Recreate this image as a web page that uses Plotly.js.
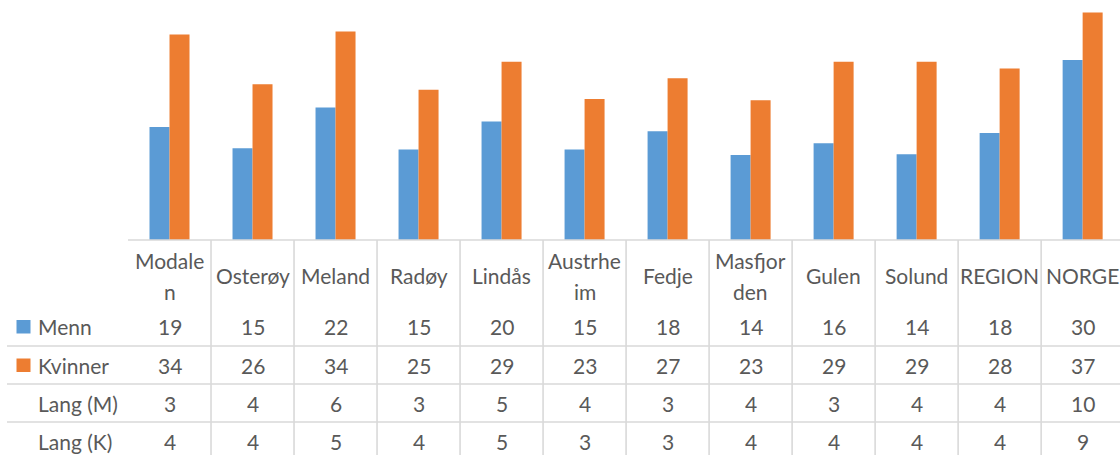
<!DOCTYPE html>
<html>
<head>
<meta charset="utf-8">
<script src="https://cdn.plot.ly/plotly-3.0.1.min.js"></script>
<style>
  html, body { margin: 0; padding: 0; background: #ffffff; }
  #chart { width: 1120px; height: 455px; }
</style>
</head>
<body>
<div id="chart"></div>
<script>
// ---- Data ----
const categories = ["Modalen", "Osterøy", "Meland", "Radøy", "Lindås", "Austrheim", "Fedje", "Masfjorden", "Gulen", "Solund", "REGION", "NORGE"];
// category labels as they wrap in the data table header
const categoryLabelLines = [["Modale", "n"], ["Osterøy"], ["Meland"], ["Radøy"], ["Lindås"], ["Austrhe", "im"], ["Fedje"], ["Masfjor", "den"], ["Gulen"], ["Solund"], ["REGION"], ["NORGE"]];
// bar values
const menn    = [18.6, 15.1, 21.8, 14.9, 19.5, 14.9, 17.9, 14.0, 15.9, 14.1, 17.6, 29.6];
const kvinner = [33.8, 25.6, 34.3, 24.7, 29.3, 23.2, 26.6, 23.0, 29.3, 29.3, 28.2, 37.4];
// data table values (as printed)
const mennTable    = [19, 15, 22, 15, 20, 15, 18, 14, 16, 14, 18, 30];
const kvinnerTable = [34, 26, 34, 25, 29, 23, 27, 23, 29, 29, 28, 37];
const langM        = [3, 4, 6, 3, 5, 4, 3, 4, 3, 4, 4, 10];
const langK        = [4, 4, 5, 4, 5, 3, 3, 4, 4, 4, 4, 9];
const seriesNames = ["Menn", "Kvinner", "Lang (M)", "Lang (K)"];
const tableRows = [mennTable, kvinnerTable, langM, langK];

// ---- Styles / geometry ----
const BLUE = "#5b9bd5", ORANGE = "#ed7d31", TEXT = "#595959", GRID = "#d9d9d9";
const W = 1120, H = 455, ML = 128, MT = 0, PLOT_BOTTOM = 240;
const PW = W - ML, PH = PLOT_BOTTOM - MT;
const XMIN = -0.5, XMAX = 11.45;
const px2x = px => (px - ML) / PW;              // pixel -> paper x
const py2y = py => (PLOT_BOTTOM - py) / PH;     // pixel -> paper y
const cat2paper = c => (c - XMIN) / (XMAX - XMIN);
const FONT = { family: "Lato, 'Open Sans', sans-serif", size: 21, color: TEXT };

const traces = [
  { type: "bar", name: "Menn", x: categories, y: menn, marker: { color: BLUE, line: { width: 0 } }, hoverinfo: "x+y" },
  { type: "bar", name: "Kvinner", x: categories, y: kvinner, marker: { color: ORANGE, line: { width: 0 } }, hoverinfo: "x+y" }
];

const annotations = [];
const shapes = [];

// Header labels
categoryLabelLines.forEach((lines, i) => {
  const ys = lines.length === 1 ? [275] : [260, 291];
  lines.forEach((t, j) => {
    annotations.push({ xref: "paper", yref: "paper", x: cat2paper(i), y: py2y(ys[j]),
      text: t, showarrow: false, xanchor: "center", yanchor: "middle", font: FONT });
  });
});

// Table rows
const rowCenters = [326.5, 365, 403, 441];
tableRows.forEach((row, r) => {
  annotations.push({ xref: "paper", yref: "paper", x: px2x(36), y: py2y(rowCenters[r]),
    text: seriesNames[r], showarrow: false, xanchor: "left", yanchor: "middle", font: FONT });
  row.forEach((v, i) => {
    annotations.push({ xref: "paper", yref: "paper", x: cat2paper(i), y: py2y(rowCenters[r]),
      text: String(v), showarrow: false, xanchor: "center", yanchor: "middle", font: FONT });
  });
});

// Legend keys
[[BLUE, 320], [ORANGE, 358.5]].forEach(([c, top]) => {
  shapes.push({ type: "rect", xref: "paper", yref: "paper", x0: px2x(16.5), x1: px2x(30.5),
    y0: py2y(top), y1: py2y(top + 13.5), fillcolor: c, line: { width: 0 } });
});

// Horizontal table lines
[346, 384, 422].forEach(py => {
  shapes.push({ type: "line", xref: "paper", yref: "paper", x0: px2x(7), x1: 1,
    y0: py2y(py), y1: py2y(py), line: { color: GRID, width: 1.6 } });
});
// Vertical table lines
for (let k = 0; k < categories.length - 1; k++) {
  const xp = cat2paper(k + 0.5);
  shapes.push({ type: "line", xref: "paper", yref: "paper", x0: xp, x1: xp,
    y0: py2y(PLOT_BOTTOM), y1: py2y(H + 5), line: { color: GRID, width: 1.6 } });
}
// Top table line (category axis)
shapes.push({ type: "line", xref: "paper", yref: "paper", x0: 0, x1: 1,
  y0: 0, y1: 0, line: { color: GRID, width: 1.6 } });

const layout = {
  width: W, height: H,
  margin: { l: ML, r: 0, t: MT, b: H - PLOT_BOTTOM, pad: 0 },
  paper_bgcolor: "#ffffff", plot_bgcolor: "#ffffff",
  showlegend: false,
  barmode: "group",
  bargap: 1 - 40 / 83,
  bargroupgap: 0,
  font: FONT,
  xaxis: { type: "category", range: [XMIN, XMAX], showticklabels: false, ticks: "",
    showgrid: false, zeroline: false, showline: false, fixedrange: true },
  yaxis: { range: [0, 240 / 6.08], visible: false, showgrid: false, zeroline: false, fixedrange: true },
  annotations: annotations,
  shapes: shapes
};

Plotly.newPlot("chart", traces, layout, { displayModeBar: false, staticPlot: true });
</script>
</body>
</html>
